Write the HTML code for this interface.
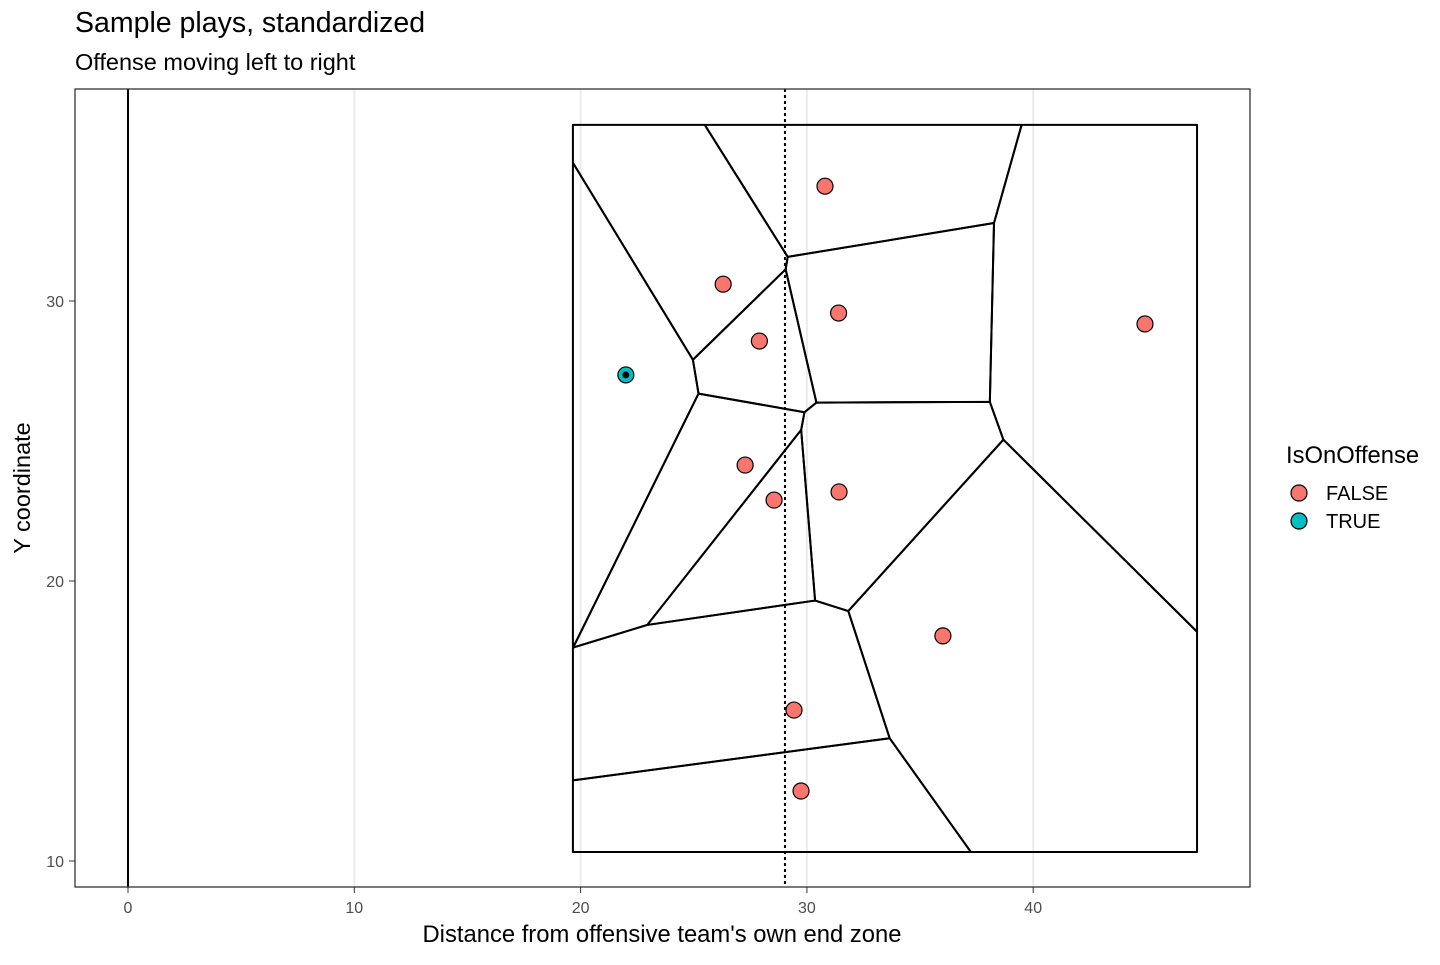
<!DOCTYPE html>
<html><head><meta charset="utf-8"><style>
body{margin:0;background:#fff;font-family:"Liberation Sans",sans-serif}
</style></head><body>
<svg id="c" width="1440" height="960" xmlns="http://www.w3.org/2000/svg" font-family="Liberation Sans, sans-serif">
<text x="75" y="32" font-size="28.5">Sample plays, standardized</text>
<text x="75" y="70" font-size="23.5">Offense moving left to right</text>
<g id="grid"></g><g id="cells"></g><g id="pts"></g><g id="axes"></g>
<rect x="75" y="89" width="1175" height="798" fill="none" stroke="#333" stroke-width="1.3"/>
<text x="662" y="942" font-size="23.8" text-anchor="middle">Distance from offensive team's own end zone</text>
<text transform="translate(30,488) rotate(-90)" font-size="23.5" text-anchor="middle">Y coordinate</text>
<g>
<text x="1286" y="463" font-size="23.8">IsOnOffense</text>
<circle cx="1299" cy="493" r="8" fill="#F8766D" stroke="#000" stroke-width="1.2"/>
<text x="1326" y="500" font-size="20">FALSE</text>
<circle cx="1299" cy="521" r="8" fill="#00BFC4" stroke="#000" stroke-width="1.2"/>
<text x="1326" y="528" font-size="20">TRUE</text>
</g>
</svg>
<script>
const xs=[30.8,26.3,31.4,27.9,22.0,44.94,27.27,28.55,31.42,36.01,29.43,29.74];
const ys=[34.1,30.6,29.57,28.57,27.36,29.18,24.14,22.89,23.18,18.04,15.39,12.5];
const offense=[false,false,false,false,true,false,false,false,false,false,false,false];
const xTicks=[0,10,20,30,40];
const yTicks=[10,20,30];
const box=[19.66,47.24,10.32,36.29];
const scrimmage=29.03;
const X=v=>128+22.63*v, Y=v=>861-(v-10)*28;
const NS="http://www.w3.org/2000/svg";
function mk(t,a,p){const e=document.createElementNS(NS,t);for(const k in a)e.setAttribute(k,a[k]);document.getElementById(p).appendChild(e);return e;}
xTicks.forEach(t=>{if(t>0){const g=mk('line',{x1:X(t),x2:X(t),y1:89,y2:887,stroke:'#ebebeb','stroke-width':2},'grid');

}
const l=mk('line',{x1:X(t),x2:X(t),y1:887,y2:893,stroke:'#333'},'axes');


const tx=mk('text',{x:X(t),y:913,'font-size':16,'text-anchor':'middle',fill:'#4d4d4d'},'axes');tx.textContent=t;

});
yTicks.forEach(t=>{const l=mk('line',{x1:69,x2:75,y1:Y(t),y2:Y(t),stroke:'#333'},'axes');


const tx=mk('text',{x:64,y:Y(t)+6,'font-size':16,'text-anchor':'end',fill:'#4d4d4d'},'axes');tx.textContent=t;

});
const ez=mk('line',{x1:X(0),x2:X(0),y1:89,y2:887,stroke:'#000','stroke-width':2},'grid');


const sl=mk('line',{x1:X(scrimmage),x2:X(scrimmage),y1:89,y2:887,stroke:'#000','stroke-width':2,'stroke-dasharray':'3,3'},'grid');


function clip(poly,a,b,c){const out=[];for(let i=0;i<poly.length;i++){const p=poly[i],q=poly[(i+1)%poly.length];
const fp=a*p[0]+b*p[1]-c,fq=a*q[0]+b*q[1]-c;if(fp<=0)out.push(p);
if((fp<0&&fq>0)||(fp>0&&fq<0)){const t=fp/(fp-fq);out.push([p[0]+t*(q[0]-p[0]),p[1]+t*(q[1]-p[1])]);}}return out;}
xs.forEach((x,i)=>{let poly=[[box[0],box[2]],[box[1],box[2]],[box[1],box[3]],[box[0],box[3]]];
xs.forEach((x2,j)=>{if(i===j)return;const a=x2-x,b=ys[j]-ys[i];const c=(x2*x2-x*x+ys[j]*ys[j]-ys[i]*ys[i])/2;poly=clip(poly,a,b,c);});
const pg=mk('polygon',{points:poly.map(p=>X(p[0])+','+Y(p[1])).join(' '),fill:'none',stroke:'#000','stroke-width':2,'stroke-linejoin':'round'},'cells');

});
xs.forEach((x,i)=>{const c=mk('circle',{cx:X(x),cy:Y(ys[i]),r:8,fill:offense[i]?'#00BFC4':'#F8766D',stroke:'#000','stroke-width':1.2},'pts');


if(offense[i]){const d=mk('circle',{cx:X(x),cy:Y(ys[i]),r:3.5,fill:'#000'},'pts');

}});
</script>
</body></html>
